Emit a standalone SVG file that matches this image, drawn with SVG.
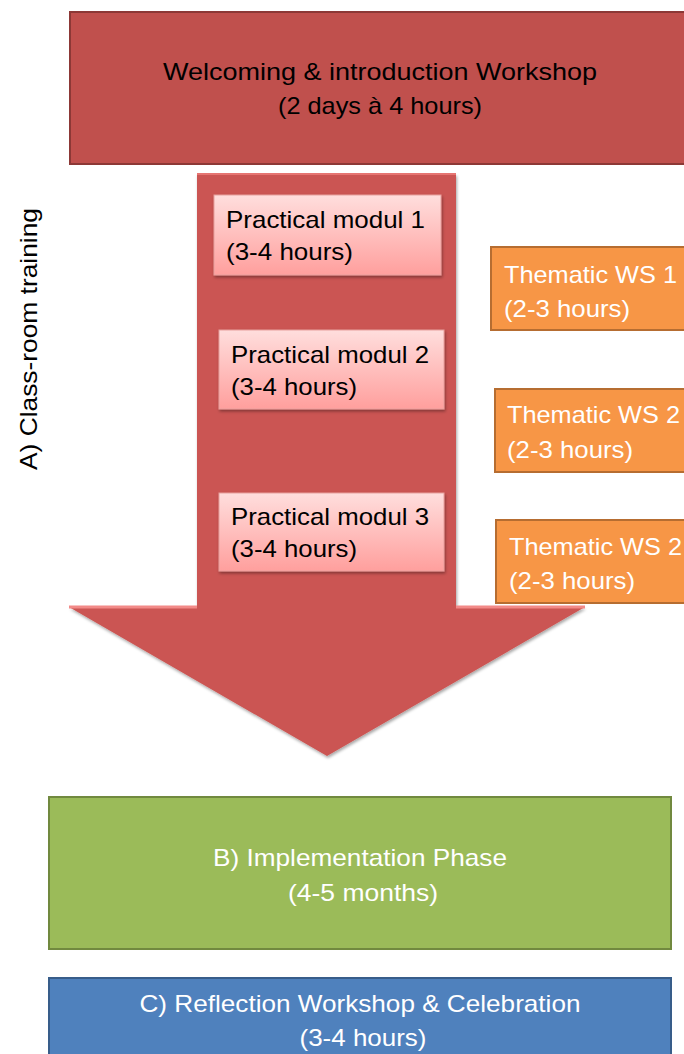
<svg xmlns="http://www.w3.org/2000/svg" width="684" height="1054" viewBox="0 0 684 1054">
<defs>
<linearGradient id="pink" x1="0" y1="0" x2="0" y2="1">
<stop offset="0" stop-color="#FFDEDD"/>
<stop offset="1" stop-color="#FF9F9D"/>
</linearGradient>
<filter id="sh" x="-10%" y="-10%" width="120%" height="120%">
<feDropShadow dx="1" dy="2" stdDeviation="1.5" flood-color="#000" flood-opacity="0.35"/>
</filter>
</defs>
<style>
text{font-family:"Liberation Sans",Arial,sans-serif;font-size:24px}
.dk{fill:#000}
.wt{fill:#fff}
.red{fill:#C0504D;stroke:#8C3836;stroke-width:2}
.pm{fill:url(#pink);stroke:#E8A09E;stroke-width:1}
.or{fill:#F79646;stroke:#B66D31;stroke-width:2}
.gr{fill:#9BBB59;stroke:#71893F;stroke-width:2}
.bl{fill:#4F81BD;stroke:#385D8A;stroke-width:2}
</style>
<g id="label-a">
<text class="dk" transform="translate(37,470) rotate(-90)" textLength="262" lengthAdjust="spacingAndGlyphs">A) Class-room training</text>
</g>
<g id="welcome">
<rect class="red" x="70" y="12" width="620" height="152"/>
<text class="dk" x="380" y="80" text-anchor="middle" textLength="434" lengthAdjust="spacingAndGlyphs">Welcoming &amp; introduction Workshop</text>
<text class="dk" x="380" y="114" text-anchor="middle" textLength="204" lengthAdjust="spacingAndGlyphs">(2 days à 4 hours)</text>
</g>
<g id="connectors">
<path id="arrow" d="M197,174 L456,174 L456,607 L585,607 L327,756 L69,607 L197,607 Z" fill="#CB5552" filter="url(#sh)"/>
<path d="M69,607 L197,607 M456,607 L585,607" stroke="#F28A88" stroke-width="3" fill="none"/>
<path d="M197,174 L456,174" stroke="#E67572" stroke-width="2" fill="none"/>
</g>
<g id="pm1">
<rect class="pm" x="214" y="195" width="227" height="80" filter="url(#sh)"/>
<text class="dk" x="226" y="228" textLength="199" lengthAdjust="spacingAndGlyphs">Practical modul 1</text>
<text class="dk" x="226" y="260" textLength="127" lengthAdjust="spacingAndGlyphs">(3-4 hours)</text>
</g>
<g id="pm2">
<rect class="pm" x="219" y="330" width="225" height="79" filter="url(#sh)"/>
<text class="dk" x="231" y="363" textLength="198" lengthAdjust="spacingAndGlyphs">Practical modul 2</text>
<text class="dk" x="231" y="395" textLength="126" lengthAdjust="spacingAndGlyphs">(3-4 hours)</text>
</g>
<g id="pm3">
<rect class="pm" x="219" y="493" width="225" height="78" filter="url(#sh)"/>
<text class="dk" x="231" y="525" textLength="198" lengthAdjust="spacingAndGlyphs">Practical modul 3</text>
<text class="dk" x="231" y="557" textLength="126" lengthAdjust="spacingAndGlyphs">(3-4 hours)</text>
</g>
<g id="tws1">
<rect class="or" x="491" y="247" width="200" height="83"/>
<text class="wt" x="504" y="283" textLength="173" lengthAdjust="spacingAndGlyphs">Thematic WS 1</text>
<text class="wt" x="504" y="317" textLength="126" lengthAdjust="spacingAndGlyphs">(2-3 hours)</text>
</g>
<g id="tws2">
<rect class="or" x="495" y="389" width="200" height="83"/>
<text class="wt" x="507" y="423" textLength="173" lengthAdjust="spacingAndGlyphs">Thematic WS 2</text>
<text class="wt" x="507" y="458" textLength="126" lengthAdjust="spacingAndGlyphs">(2-3 hours)</text>
</g>
<g id="tws3">
<rect class="or" x="496" y="520" width="200" height="83"/>
<text class="wt" x="509" y="555" textLength="173" lengthAdjust="spacingAndGlyphs">Thematic WS 2</text>
<text class="wt" x="509" y="589" textLength="126" lengthAdjust="spacingAndGlyphs">(2-3 hours)</text>
</g>
<g id="implementation">
<rect class="gr" x="49" y="797" width="622" height="152"/>
<text class="wt" x="360" y="866" text-anchor="middle" textLength="294" lengthAdjust="spacingAndGlyphs">B) Implementation Phase</text>
<text class="wt" x="363" y="901" text-anchor="middle" textLength="150" lengthAdjust="spacingAndGlyphs">(4-5 months)</text>
</g>
<g id="reflection">
<rect class="bl" x="49" y="978" width="622" height="90"/>
<text class="wt" x="360" y="1012" text-anchor="middle" textLength="441" lengthAdjust="spacingAndGlyphs">C) Reflection Workshop &amp; Celebration</text>
<text class="wt" x="363" y="1046" text-anchor="middle" textLength="127" lengthAdjust="spacingAndGlyphs">(3-4 hours)</text>
</g>
</svg>
